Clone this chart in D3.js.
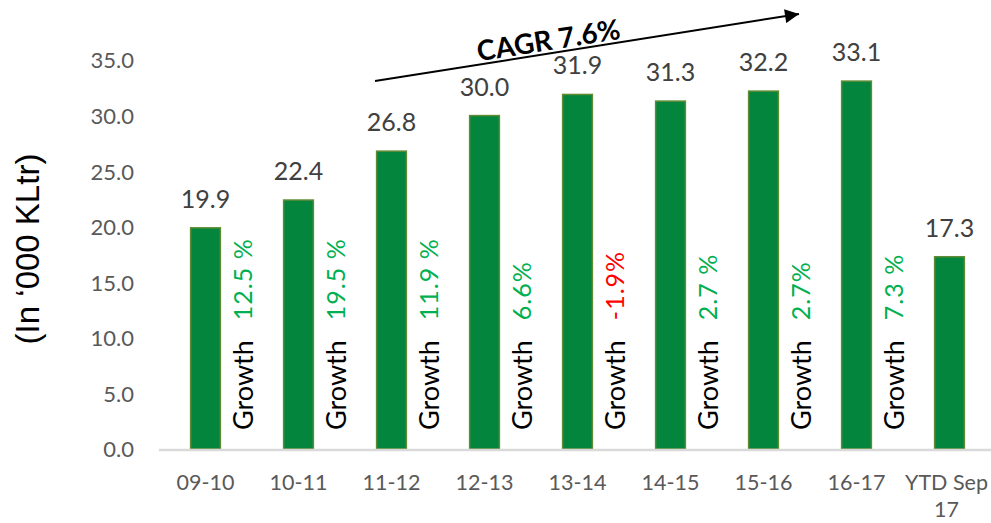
<!DOCTYPE html>
<html>
<head>
<meta charset="utf-8">
<script src="https://cdn.jsdelivr.net/npm/d3@7"></script>
<style>
  body { margin: 0; background: #fff; }
  text { font-family: Lato, "Open Sans", sans-serif; }
</style>
</head>
<body>
<div id="chart-area"></div>
<script>
const WIDTH = 991
const HEIGHT = 523

// data
const categories = ["09-10", "10-11", "11-12", "12-13", "13-14", "14-15", "15-16", "16-17", "YTD Sep 17"]
const volumes = [19.9, 22.4, 26.8, 30.0, 31.9, 31.3, 32.2, 33.1, 17.3]
const growthLabels = ["12.5 %", "19.5 %", "11.9 %", "6.6%", "-1.9%", "2.7 %", "2.7%", "7.3 %"]
const growthValues = [12.5, 19.5, 11.9, 6.6, -1.9, 2.7, 2.7, 7.3]
const yTicks = [0, 5, 10, 15, 20, 25, 30, 35]
const cagrText = "CAGR 7.6%"

const svg = d3.select("#chart-area").append("svg")
  .attr("width", WIDTH)
  .attr("height", HEIGHT)

// scales
const x = d3.scaleBand()
  .domain(categories)
  .range([159, 996])
  .paddingInner(0.68)
  .paddingOuter(0.34)

const y = d3.scaleLinear()
  .domain([0, 35])
  .range([449, 60])

// y axis: labels only
const yAxisCall = d3.axisLeft(y)
  .tickValues(yTicks)
  .tickFormat(d3.format(".1f"))
  .tickSize(0)
  .tickPadding(0)
const yAxis = svg.append("g")
  .attr("transform", "translate(134, 0)")
  .call(yAxisCall)
yAxis.select(".domain").remove()
yAxis.selectAll("text")
  .attr("font-family", "Lato, sans-serif")
  .attr("font-size", "22px")
  .attr("fill", "#595959")
  .attr("dy", "0.36em")

// y title
svg.append("text")
  .attr("transform", "translate(39, 249) rotate(-90)")
  .attr("text-anchor", "middle")
  .style("font-family", "'Liberation Sans', Arial, sans-serif")
  .attr("font-size", "33px")
  .attr("fill", "#000")
  .text("(In \u2018000 KLtr)")

// bars
svg.selectAll("rect.bar")
  .data(volumes)
  .enter().append("rect")
    .attr("class", "bar")
    .attr("x", (d, i) => x(categories[i]))
    .attr("y", d => y(d))
    .attr("width", x.bandwidth())
    .attr("height", d => y(0) - y(d))
    .attr("fill", "#03853d")
    .attr("stroke", "#5e8b34")
    .attr("stroke-width", 1.5)

// x axis line
svg.append("line")
  .attr("x1", 159).attr("x2", WIDTH)
  .attr("y1", y(0) + 1).attr("y2", y(0) + 1)
  .attr("stroke", "#d9d9d9")
  .attr("stroke-width", 2.5)

// category labels
const catLabels = svg.selectAll("text.cat")
  .data(categories)
  .enter().append("text")
    .attr("class", "cat")
    .attr("text-anchor", "middle")
    .attr("font-size", "21.5px")
    .attr("fill", "#595959")
    .attr("x", d => x(d) + x.bandwidth() / 2)
    .attr("y", y(0) + 41)
catLabels.each(function(d) {
  const parts = d === "YTD Sep 17" ? ["YTD Sep", "17"] : [d]
  const t = d3.select(this)
  parts.forEach((p, k) => {
    t.append("tspan")
      .attr("x", x(d) + x.bandwidth() / 2 - (parts.length > 1 ? 3 : 0))
      .attr("dy", k === 0 ? 0 : 27)
      .text(p)
  })
})

// value labels
svg.selectAll("text.value")
  .data(volumes)
  .enter().append("text")
    .attr("class", "value")
    .attr("text-anchor", "middle")
    .attr("font-size", "25px")
    .attr("fill", "#404040")
    .attr("x", (d, i) => x(categories[i]) + x.bandwidth() / 2)
    .attr("y", d => y(d) - 20)
    .text(d => d3.format(".1f")(d))

// growth labels (rotated, in the gap right of each bar)
const growth = svg.selectAll("text.growth")
  .data(growthLabels)
  .enter().append("text")
    .attr("class", "growth")
    .attr("transform", (d, i) => `translate(${x(categories[i]) + x.bandwidth() / 2 + 36}, 430) rotate(-90)`)
    .attr("dominant-baseline", "central")
growth.append("tspan")
  .attr("font-size", "27px")
  .attr("fill", "#000")
  .text("Growth")
growth.append("tspan")
  .attr("dx", 20)
  .attr("font-size", "25px")
  .attr("letter-spacing", "1px")
  .attr("fill", (d, i) => growthValues[i] < 0 ? "#ff0000" : "#00b050")
  .text(d => d)

// CAGR arrow
svg.append("defs").append("marker")
  .attr("id", "arrow")
  .attr("viewBox", "0 0 10 10")
  .attr("refX", 10).attr("refY", 5)
  .attr("markerWidth", 8).attr("markerHeight", 7)
  .attr("markerUnits", "strokeWidth")
  .attr("orient", "auto")
  .append("path")
    .attr("d", "M0,0 L10,5 L0,10 Z")
    .attr("fill", "#000")

svg.append("line")
  .attr("x1", 375).attr("y1", 81)
  .attr("x2", 799).attr("y2", 14)
  .attr("stroke", "#000")
  .attr("stroke-width", 2)
  .attr("marker-end", "url(#arrow)")

const angle = Math.atan2(14 - 81, 799 - 375) * 180 / Math.PI
svg.append("text")
  .attr("transform", `translate(550, 50) rotate(${angle})`)
  .attr("text-anchor", "middle")
  .attr("font-size", "28px")
  .attr("font-weight", "bold")
  .attr("fill", "#000")
  .text(cagrText)
</script>
</body>
</html>
